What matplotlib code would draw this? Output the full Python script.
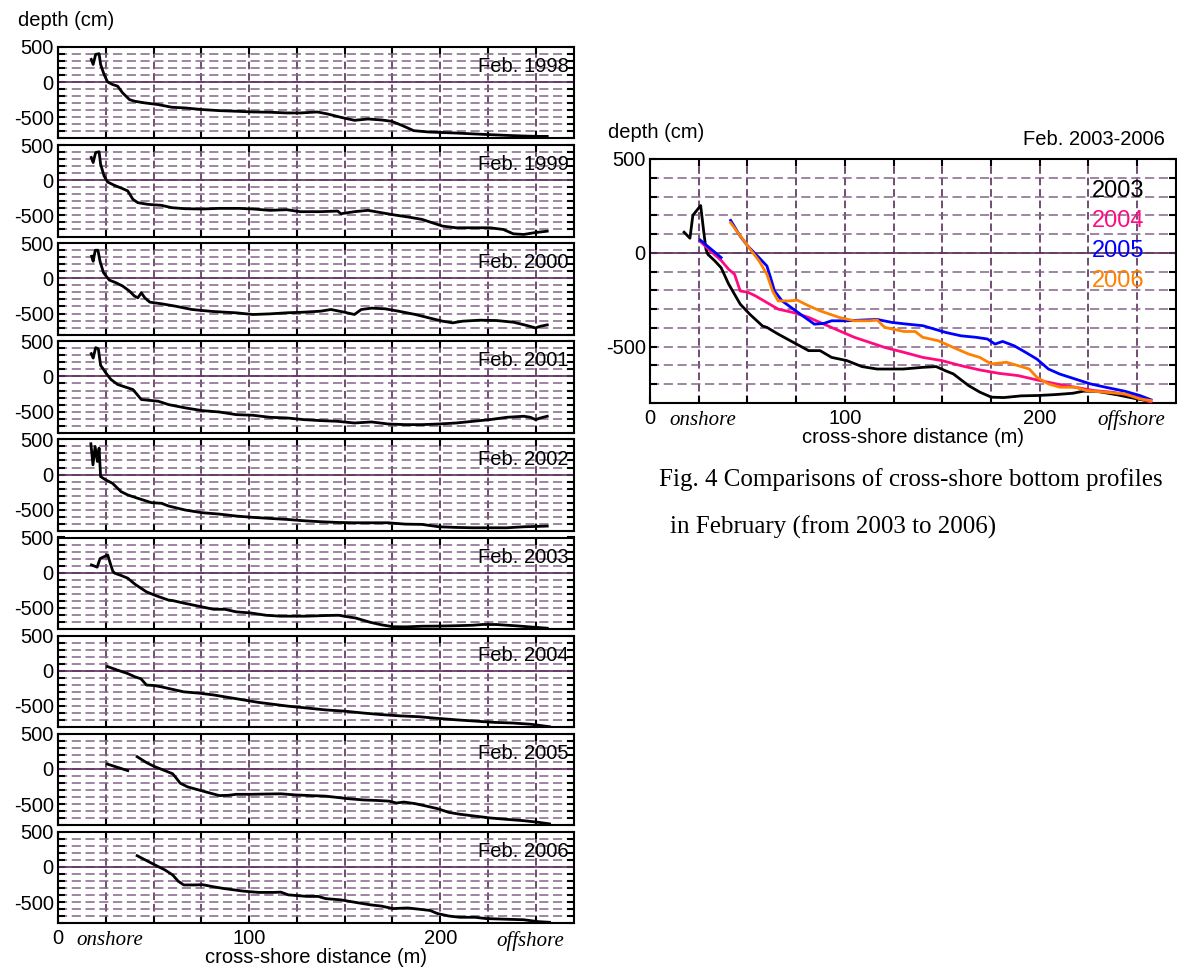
import numpy as np
import matplotlib.pyplot as plt
from matplotlib.ticker import MultipleLocator, FuncFormatter

nan = float('nan')

# cross-shore bottom profiles in February: distance (m) and depth (cm)
years = ['1998', '1999', '2000', '2001', '2002', '2003', '2004', '2005', '2006']

x_1998 = [17.4, 18.4, 19.7, 21.5, 22.3, 24.1, 25.9, 28.5, 31.2, 33.8, 37.4, 40.0, 45.4, 52.4,
          59.5, 66.6, 75.5, 84.3, 93.2, 102, 110.9, 119.7, 126.8, 135.7, 141, 148, 155.1,
          162.2, 169.3, 174.6, 179.9, 186.1, 194.1, 208.3, 218.9, 226, 234.8, 243.7, 250.7, 256]
d_1998 = [324, 252, 395, 405, 252, 110, 5, -33, -57, -152, -248, -271, -295, -319,
          -357, -367, -390, -405, -414, -424, -428, -438, -438, -424, -452, -500, -543,
          -524, -538, -557, -614, -690, -709, -724, -738, -747, -757, -766, -771, -771]

x_1999 = [17.4, 18.4, 19.7, 21.5, 22.3, 24.1, 25.9, 29.4, 33.8, 36.5, 39.2, 41.8, 47.1, 54.2,
          59.5, 66.6, 75.5, 84.3, 94.9, 102, 110.9, 119.7, 126.8, 137.4, 146.3, 148, 155.1,
          162.2, 169.3, 176.4, 183.5, 190.5, 195.9, 201.2, 208.3, 217.1, 226, 233, 238.3,
          243.7, 249, 256]
d_1999 = [324, 252, 395, 405, 228, 62, -24, -71, -119, -152, -271, -319, -343, -357,
          -390, -405, -409, -400, -400, -409, -428, -419, -447, -447, -438, -476, -447,
          -428, -462, -495, -524, -557, -605, -652, -676, -676, -676, -700, -762,
          -771, -747, -724]

x_2000 = [17.6, 18.4, 19.5, 20.9, 22, 23.8, 26.8, 30.3, 33.8, 37.4, 40.0, 41.8, 43.6, 45.4,
          48.0, 54.2, 61.3, 70.1, 80.8, 93.2, 102, 110.9, 119.7, 128.6, 137.4, 142.8, 149.8,
          155.1, 158.7, 164, 171.1, 178.2, 187, 194.1, 201.2, 206.5, 211.8, 220.7, 229.5,
          238.4, 245.4, 249.9, 252.5, 256]
d_2000 = [314, 243, 400, 400, 243, 81, -24, -62, -109, -181, -252, -276, -205, -276,
          -338, -362, -395, -443, -471, -490, -514, -505, -490, -481, -467, -443, -481,
          -514, -443, -424, -433, -467, -514, -562, -609, -633, -609, -595, -600,
          -624, -671, -705, -681, -662]

x_2001 = [17.4, 18.4, 19.7, 21.1, 22.3, 23.2, 25, 27.7, 31.2, 36.5, 39.2, 43.6, 47.1, 52.4,
          57.8, 66.6, 75.5, 84.3, 93.2, 102, 110.9, 119.7, 128.6, 137.4, 146.3, 155.1, 164,
          172.8, 181.7, 190.5, 199.4, 208.3, 217.1, 226, 234.8, 243.7, 247.2, 249.9, 252.5, 256]
d_2001 = [324, 262, 409, 395, 157, 124, 52, -43, -114, -162, -186, -328, -338, -352,
          -400, -447, -486, -505, -543, -552, -581, -590, -614, -628, -638, -662, -647,
          -676, -685, -685, -676, -662, -638, -614, -581, -566, -581, -614, -590, -566]

x_2002 = [17.2, 18.3, 19.4, 20.6, 21.5, 22.3, 25, 28.5, 33, 36.5, 41.8, 48.9, 54.2, 57.8,
          66.6, 75.5, 84.3, 93.2, 102, 110.9, 119.7, 128.6, 137.4, 146.3, 155.1, 164, 172.8,
          181.7, 190.5, 199.4, 208.3, 217.1, 226, 234.8, 243.7, 256]
d_2002 = [438, 138, 400, 186, 376, -29, -76, -124, -243, -290, -338, -400, -409, -447,
          -505, -543, -562, -590, -609, -624, -638, -657, -671, -681, -686, -686, -686,
          -705, -709, -743, -752, -757, -757, -757, -743, -733]

x_2003 = [17.5, 20.5, 22, 26, 27.5, 28.7, 29.7, 33, 36.5, 40.4, 46.3, 51.2, 57.8, 60,
          65.8, 73.6, 81.4, 87.3, 93.2, 101, 108.8, 116.6, 130, 140, 146.9, 151.6, 155.7,
          163.5, 169.3, 175.2, 181.7, 190.5, 199.4, 208.3, 217.1, 222.4, 229.5, 240.1, 249, 256]
d_2003 = [110, 78, 200, 252, 120, 20, -8, -40, -79, -167, -273, -327, -390, -397,
          -433, -477, -521, -521, -557, -574, -606, -619, -619, -610, -606, -628, -645,
          -707, -742, -769, -771, -762, -760, -755, -748, -737, -738, -757, -776, -790]

x_2004 = [25.9, 31.2, 36.5, 40.4, 43.4, 46.3, 50.2, 54.1, 60, 65.8, 73.6, 81.4, 89.3, 97.1,
          104.9, 112.7, 120.5, 130.3, 140, 149.8, 159.6, 169.3, 179.1, 188.9, 198.6, 208.4,
          218.2, 228, 237.7, 247.5, 257.2]
d_2004 = [60, 8, -40, -88, -114, -203, -210, -229, -265, -300, -318, -344, -380, -415,
          -450, -477, -504, -530, -557, -574, -601, -624, -642, -654, -677, -698,
          -716, -734, -743, -761, -796]

x_2005 = [25.8, 36.5, nan, 41.4, 46.3, 50.2, 56, 60, 61.9, 63.9, 67.8, 73.6, 79.5, 84.4,
          89.3, 93.2, 101, 108.8, 116.6, 124.4, 132.2, 140, 145.9, 151.8, 159.6, 167.4,
          173.2, 177.1, 181, 186.9, 192.8, 198.6, 204.5, 210.4, 218.2, 226, 233.8, 243.6,
          251.4, 257.2]
d_2005 = [68, -25, nan, 173, 89, 36, -26, -70, -132, -203, -256, -300, -344, -380,
          -376, -362, -362, -358, -355, -371, -380, -388, -406, -424, -442, -450,
          -459, -486, -472, -495, -530, -566, -619, -646, -672, -698, -716, -737,
          -760, -783]

x_2006 = [41.4, 50.2, 56, 60, 62.9, 65.8, 71.7, 75.6, 81.4, 87.3, 97.1, 104.9, 112.7, 116.6,
          120.5, 130.3, 136.1, 140, 147.9, 155.7, 163.5, 169.3, 175.2, 183, 188.9, 194.7,
          198.6, 204.5, 210.4, 218.2, 224, 233.8, 243.6, 251.4, 257.2]
d_2006 = [160, 36, -43, -114, -203, -256, -256, -252, -282, -309, -344, -362, -362, -358,
          -397, -419, -419, -450, -468, -504, -539, -557, -592, -583, -601, -619,
          -663, -698, -716, -716, -734, -743, -751, -778, -787]

xs = [x_1998, x_1999, x_2000, x_2001, x_2002, x_2003, x_2004, x_2005, x_2006]
ds = [d_1998, d_1999, d_2000, d_2001, d_2002, d_2003, d_2004, d_2005, d_2006]

cmp_years = ['2003', '2004', '2005', '2006']
cmp_colors = ['black', '#ff0a80', '#0000ff', '#ff8000']
legend_depth = [329, 170, 10, -150]

# colours of the grid
vgrid_col = '#4b1e4b'
hgrid_col = '#84648a'
zero_col = '#5e2f5e'

plt.rcParams['font.family'] = ['Liberation Sans', 'DejaVu Sans']
FS = 14.5

W, H = 1177, 972
fig = plt.figure(figsize=(W / 100, H / 100), dpi=100)


def box(left, top, width, height):
    #pixel box -> figure fraction
    return [left / W, 1 - (top + height) / H, width / W, height / H]


def ylab(v, pos):
    v = int(round(v))
    return str(v) if v in (500, 0, -500) else ''


def xlab(v, pos):
    v = int(round(v))
    return str(v) if v in (0, 100, 200) else ''


def style_axes(ax, show_x):
    ax.set_xlim(0, 270)
    ax.set_ylim(-800, 500)
    ax.xaxis.set_major_locator(MultipleLocator(25))
    ax.yaxis.set_major_locator(MultipleLocator(100))
    ax.xaxis.grid(True, color=vgrid_col, lw=1.1, linestyle=(0, (5, 2.5)))
    ax.yaxis.grid(True, color=hgrid_col, lw=1.1, linestyle=(0, (6, 3)))
    ax.set_axisbelow(True)
    ax.axhline(0, color=zero_col, lw=1.2, zorder=1.5)
    ax.tick_params(direction='in', length=5, width=1.5, top=True, right=True,
                   labelsize=FS, pad=3)
    ax.yaxis.set_major_formatter(FuncFormatter(ylab))
    if show_x:
        ax.xaxis.set_major_formatter(FuncFormatter(xlab))
        ax.tick_params(axis='x', pad=4)
        for xpos, word in [(27, 'onshore'), (247, 'offshore')]:
            ax.annotate(word, xy=(xpos, 0), xycoords=('data', 'axes fraction'),
                        xytext=(0, -12.5), textcoords='offset points',
                        ha='center', va='center', fontsize=15,
                        family='Liberation Serif', style='italic')
        ax.annotate('cross-shore distance (m)', xy=(0.5, 0), xycoords='axes fraction',
                    xytext=(0, -25), textcoords='offset points',
                    ha='center', va='center', fontsize=FS)
    else:
        ax.set_xticklabels([])
    for sp in ax.spines.values():
        sp.set_linewidth(1.5)
        sp.set_color('black')


#left column: one panel per year
top0, ph, gap = 47, 91.4, 6.7
for i, yr in enumerate(years):
    ax = fig.add_axes(box(58, top0 + i * (ph + gap), 516, ph))
    style_axes(ax, i == len(years) - 1)
    ax.plot(xs[i], ds[i], color='black', lw=2, solid_joinstyle='round', zorder=3)
    ax.text(0.99, 0.785, 'Feb. ' + yr, transform=ax.transAxes, ha='right',
            va='center', fontsize=FS, zorder=4)

fig.text(18 / W, 1 - 20 / H, 'depth (cm)', fontsize=FS, va='center', ha='left')

#right panel: comparison 2003-2006
axr = fig.add_axes(box(650, 159, 526, 244))
style_axes(axr, True)
for yr, col, yl in zip(cmp_years, cmp_colors, legend_depth):
    i = years.index(yr)
    axr.plot(xs[i], ds[i], color=col, lw=2, solid_joinstyle='round', zorder=3)
    axr.text(227, yl, yr, color=col, fontsize=17, va='center', ha='left', zorder=4)

fig.text(608 / W, 1 - 132 / H, 'depth (cm)', fontsize=FS, va='center', ha='left')
fig.text(1165 / W, 1 - 139 / H, 'Feb. 2003-2006', fontsize=FS, va='center', ha='right')

fig.text(659 / W, 1 - 480 / H, 'Fig. 4 Comparisons of cross-shore bottom profiles',
         family='Liberation Serif', fontsize=18, va='center', ha='left')
fig.text(670 / W, 1 - 527 / H, 'in February (from 2003 to 2006)',
         family='Liberation Serif', fontsize=18, va='center', ha='left')

fig.savefig('out.png', dpi=100)
